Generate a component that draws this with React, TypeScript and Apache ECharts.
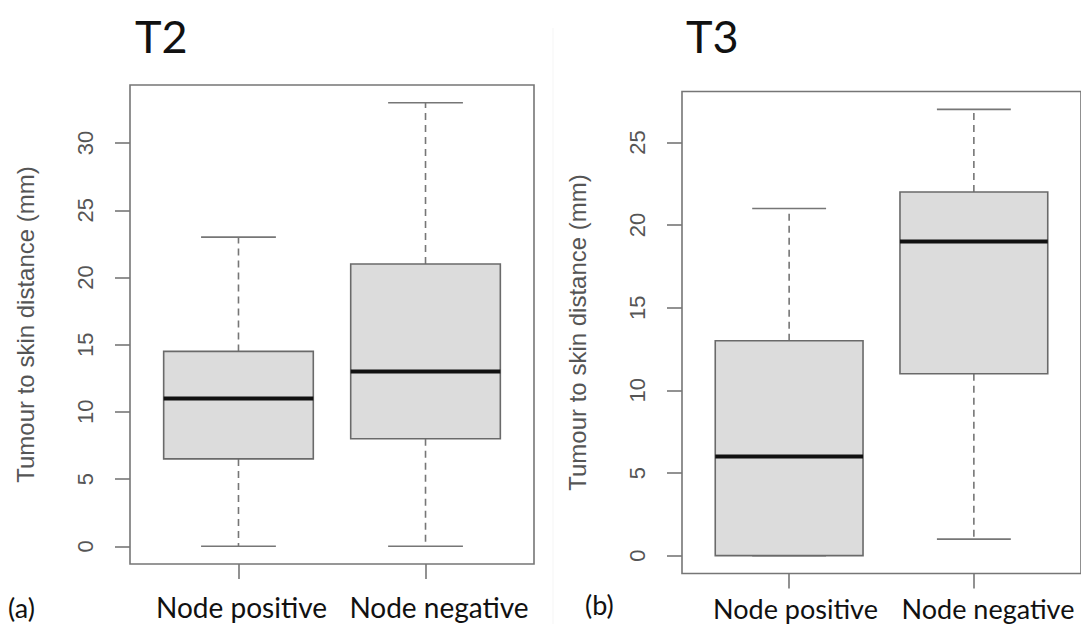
import React, { useEffect, useRef } from "react";
import * as echarts from "echarts";

const categories = ["Node positive", "Node negative"];
const categoryPositions = [1, 2];
const panelTitles = ["T2", "T3"];
const panelTags = ["(a)", "(b)"];
const yAxisName = "Tumour to skin distance (mm)";

// T2 panel (a)
const t2Min = [0, 0];
const t2Q1 = [6.5, 8];
const t2Median = [11, 13];
const t2Q3 = [14.5, 21];
const t2Max = [23, 33];
const t2Ticks = [0, 5, 10, 15, 20, 25, 30];

// T3 panel (b)
const t3Min = [0, 1];
const t3Q1 = [0, 11];
const t3Median = [6, 19];
const t3Q3 = [13, 22];
const t3Max = [21, 27];
const t3Ticks = [0, 5, 10, 15, 20, 25];

function buildRows(mins: number[], q1s: number[], meds: number[], q3s: number[], maxs: number[]) {
  return categoryPositions.map((x, i) => [x, mins[i], q1s[i], meds[i], q3s[i], maxs[i]]);
}

// R-style 4% axis extension
function rRange(lo: number, hi: number) {
  const d = (hi - lo) * 0.04;
  return [lo - d, hi + d];
}

const LINE = "#767676";
const TEXT = "#555555";

const renderBox = (params: any, api: any) => {
  const x = api.value(0);
  const lo = api.value(1);
  const q1 = api.value(2);
  const med = api.value(3);
  const q3 = api.value(4);
  const hi = api.value(5);
  const pLo = api.coord([x, lo]);
  const pQ1 = api.coord([x, q1]);
  const pMed = api.coord([x, med]);
  const pQ3 = api.coord([x, q3]);
  const pHi = api.coord([x, hi]);
  const boxHalf = api.size([0.4, 0])[0];
  const capHalf = api.size([0.2, 0])[0];
  const cx = pMed[0];
  const whisker = { stroke: LINE, lineWidth: 1.6, lineDash: [7, 5], fill: null };
  const solid = { stroke: LINE, lineWidth: 1.6, fill: null };
  return {
    type: "group",
    children: [
      { type: "line", shape: { x1: cx, y1: pQ3[1], x2: cx, y2: pHi[1] }, style: whisker },
      { type: "line", shape: { x1: cx, y1: pQ1[1], x2: cx, y2: pLo[1] }, style: whisker },
      { type: "line", shape: { x1: cx - capHalf, y1: pHi[1], x2: cx + capHalf, y2: pHi[1] }, style: solid },
      { type: "line", shape: { x1: cx - capHalf, y1: pLo[1], x2: cx + capHalf, y2: pLo[1] }, style: solid },
      {
        type: "rect",
        shape: { x: cx - boxHalf, y: pQ3[1], width: boxHalf * 2, height: pQ1[1] - pQ3[1] },
        style: { fill: "#dcdcdc", stroke: "#6a6a6a", lineWidth: 1.6 },
      },
      { type: "line", shape: { x1: cx - boxHalf, y1: pMed[1], x2: cx + boxHalf, y2: pMed[1] }, style: { stroke: "#111111", lineWidth: 4 } },
    ],
  };
};

function makeXAxis(gridIndex: number) {
  const r = rRange(0.5, 2.5);
  return {
    gridIndex,
    type: "value",
    min: r[0],
    max: r[1],
    axisLine: { show: false, onZero: false },
    splitLine: { show: false },
    axisTick: { show: true, length: 15, customValues: categoryPositions, lineStyle: { color: LINE, width: 1.6 } },
    axisLabel: { show: false },
  };
}

function makeYAxis(gridIndex: number, lo: number, hi: number, ticks: number[]) {
  const r = rRange(lo, hi);
  return {
    gridIndex,
    type: "value",
    min: r[0],
    max: r[1],
    axisLine: { show: false, onZero: false },
    splitLine: { show: false },
    axisTick: { show: true, length: 15, customValues: ticks, lineStyle: { color: LINE, width: 1.6 } },
    axisLabel: {
      customValues: ticks,
      rotate: 90,
      fontSize: 22,
      color: TEXT,
      fontFamily: "Liberation Sans",
      margin: 34,
    },
    name: yAxisName,
    nameLocation: "middle",
    nameGap: 93,
    nameTextStyle: { fontSize: 24, color: TEXT, fontFamily: "Liberation Sans" },
  };
}

export default function App() {
  const ref = useRef<HTMLDivElement>(null);
  useEffect(() => {
    if (!ref.current) return;
    const chart = echarts.init(ref.current, undefined, { renderer: "svg" });
    const t2Rows = buildRows(t2Min, t2Q1, t2Median, t2Q3, t2Max);
    const t3Rows = buildRows(t3Min, t3Q1, t3Median, t3Q3, t3Max);
    const t2Lo = Math.min(...t2Min);
    const t2Hi = Math.max(...t2Max);
    const t3Lo = Math.min(...t3Min, ...t3Q1);
    const t3Hi = Math.max(...t3Max);
    const labelFont = "Lato";
    const text = (s: string, x: number, y: number, size: number, align: string) => ({
      type: "text",
      x,
      y,
      style: { text: s, fontSize: size, fontFamily: labelFont, fill: "#111111", align, verticalAlign: "middle" },
    });
    chart.setOption({
      animation: false,
      backgroundColor: "#ffffff",
      grid: [
        { left: 130, top: 85, width: 404, height: 479, show: true, borderColor: LINE, borderWidth: 1.6, backgroundColor: "transparent" },
        { left: 682, top: 91.5, width: 411, height: 482, show: true, borderColor: LINE, borderWidth: 1.6, backgroundColor: "transparent" },
      ],
      xAxis: [makeXAxis(0), makeXAxis(1)],
      yAxis: [makeYAxis(0, t2Lo, t2Hi, t2Ticks), makeYAxis(1, t3Lo, t3Hi, t3Ticks)],
      series: [
        { type: "custom", xAxisIndex: 0, yAxisIndex: 0, data: t2Rows, encode: { x: 0, y: [1, 2, 3, 4, 5] }, renderItem: renderBox },
        { type: "custom", xAxisIndex: 1, yAxisIndex: 1, data: t3Rows, encode: { x: 0, y: [1, 2, 3, 4, 5] }, renderItem: renderBox },
      ],
      graphic: [
        { type: "line", shape: { x1: 553, y1: 28, x2: 553, y2: 624 }, style: { stroke: "#f5f5f5", lineWidth: 1 }, silent: true },
        text(panelTitles[0], 135, 36, 45, "left"),
        text(panelTitles[1], 686, 36, 45, "left"),
        text(panelTags[0], 8, 607, 27, "left"),
        text(panelTags[1], 585, 604, 27, "left"),
        text(categories[0], 241.5, 607, 28, "center"),
        text(categories[1], 439, 607, 28, "center"),
        text(categories[0], 795.5, 608, 27, "center"),
        text(categories[1], 988, 608, 27, "center"),
      ],
    });
    return () => chart.dispose();
  }, []);
  return (
    <div
      ref={ref}
      style={{ position: "fixed", left: 0, top: 0, width: 1081, height: 624, background: "#fff" }}
    />
  );
}
